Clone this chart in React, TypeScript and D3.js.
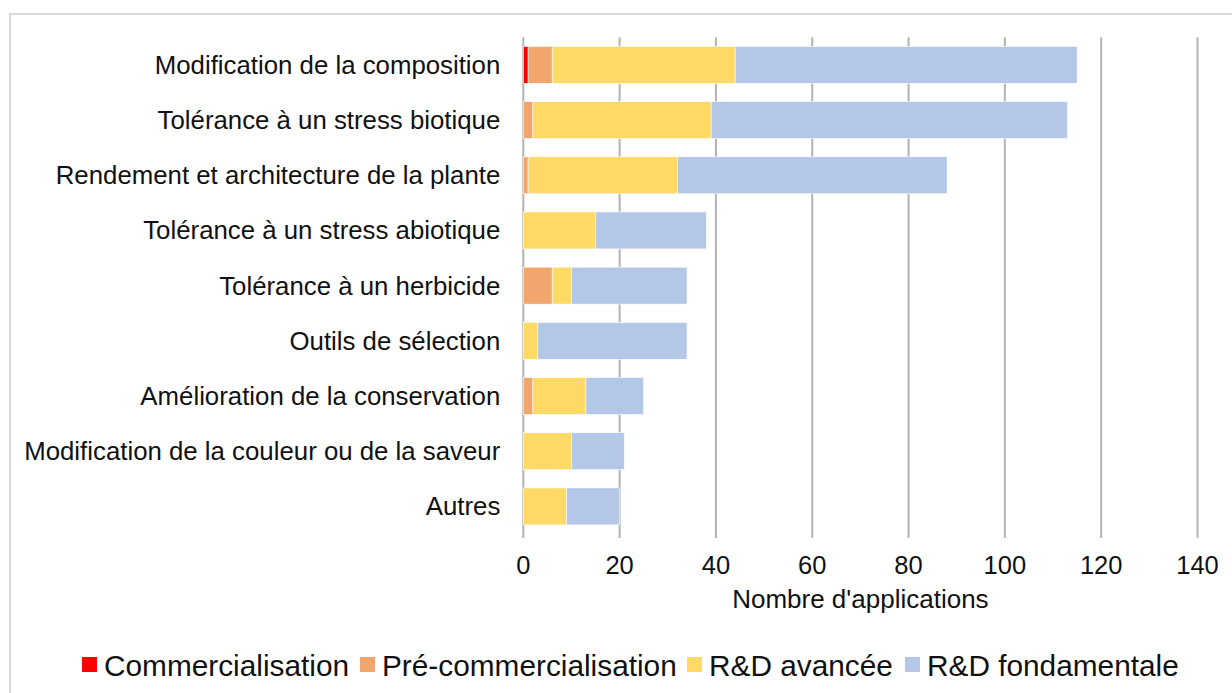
import React from "react";
import * as d3 from "d3";

const categories = [
  "Modification de la composition",
  "Tolérance à un stress biotique",
  "Rendement et architecture de la plante",
  "Tolérance à un stress abiotique",
  "Tolérance à un herbicide",
  "Outils de sélection",
  "Amélioration de la conservation",
  "Modification de la couleur ou de la saveur",
  "Autres",
];

const seriesNames = ["Commercialisation", "Pré-commercialisation", "R&D avancée", "R&D fondamentale"];
const commercialisation = [1, 0, 0, 0, 0, 0, 0, 0, 0];
const preCommercialisation = [5, 2, 1, 0, 6, 0, 2, 0, 0];
const rdAvancee = [38, 37, 31, 15, 4, 3, 11, 10, 9];
const rdFondamentale = [71, 74, 56, 23, 24, 31, 12, 11, 11];
const seriesColors = ["#FF0000", "#F1A66E", "#FFD966", "#B4C7E7"];
const xTicks = [0, 20, 40, 60, 80, 100, 120, 140];
const xTitle = "Nombre d'applications";

const W = 1232;
const H = 693;
const plot = { left: 523.3, right: 1197.5, top: 37.3, bottom: 534 };
const FONT = "'Liberation Sans', Arial, sans-serif";

export default function App() {
  const x = d3.scaleLinear().domain([0, 140]).range([plot.left, plot.right]);
  const y = d3.scaleBand<string>().domain(categories).range([plot.top, plot.bottom]).paddingInner(0.33).paddingOuter(0.165);

  const table = categories.map((c, i) => ({
    cat: c,
    s0: commercialisation[i],
    s1: preCommercialisation[i],
    s2: rdAvancee[i],
    s3: rdFondamentale[i],
  }));
  const stack = d3.stack<any>().keys(["s0", "s1", "s2", "s3"])(table);

  const legendFont = 29.8;
  const legendStarts = [82, 360, 687, 905];

  return (
    <svg width={W} height={H} style={{ position: "absolute", left: 0, top: 0, background: "#fff" }}>
      <rect x={0} y={0} width={W} height={H} fill="#fff" />
      <rect x={10} y={14} width={W + 20} height={H + 20} fill="#fff" stroke="#D9D9D9" strokeWidth={2} />
      {xTicks.map((t) => (
        <line key={t} x1={x(t)} x2={x(t)} y1={plot.top} y2={plot.bottom + 4} stroke="#B3B3B3" strokeWidth={2} />
      ))}
      {stack.map((layer, si) =>
        layer.map((d, i) => {
          const w = x(d[1]) - x(d[0]);
          if (w <= 0) return null;
          return (
            <rect
              key={si + "-" + i}
              x={x(d[0])}
              y={y(categories[i])}
              width={w}
              height={y.bandwidth()}
              fill={seriesColors[si]}
              stroke="#fff"
              strokeWidth={0.6}
            />
          );
        })
      )}
      {categories.map((c) => (
        <text
          key={c}
          x={plot.left - 23}
          y={(y(c) as number) + y.bandwidth() / 2}
          dy="0.35em"
          textAnchor="end"
          fontFamily={FONT}
          fontSize={25.8}
          fill="#111"
        >
          {c}
        </text>
      ))}
      {xTicks.map((t) => (
        <text key={"l" + t} x={x(t)} y={574} textAnchor="middle" fontFamily={FONT} fontSize={25.5} fill="#111">
          {t}
        </text>
      ))}
      <text x={(plot.left + plot.right) / 2} y={608} textAnchor="middle" fontFamily={FONT} fontSize={26} fill="#111">
        {xTitle}
      </text>
      {seriesNames.map((n, i) => (
        <g key={n}>
          <rect x={legendStarts[i]} y={657} width={15} height={15} fill={seriesColors[i]} />
          <text x={legendStarts[i] + 22} y={665} dy="0.36em" fontFamily={FONT} fontSize={legendFont} fill="#111">
            {n}
          </text>
        </g>
      ))}
    </svg>
  );
}
